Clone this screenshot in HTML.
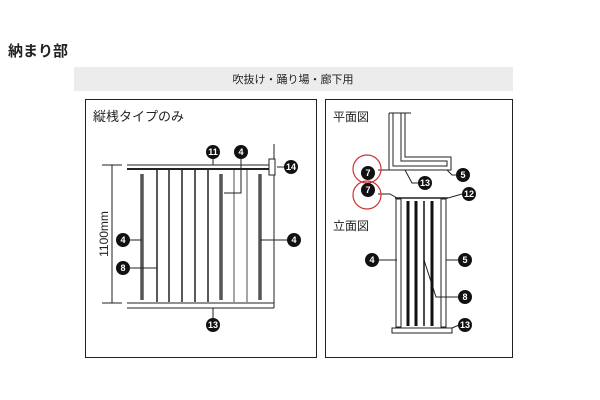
<!DOCTYPE html>
<html><head><meta charset="utf-8"><style>
body{margin:0;background:#fff;width:600px;height:400px;overflow:hidden}
svg{display:block}
text{font-family:"Liberation Sans","Noto Sans CJK JP",sans-serif}
.n{fill:#fff;font-size:9px;font-weight:bold;text-anchor:middle}
</style></head><body>
<svg width="600" height="400" viewBox="0 0 600 400">
<text x="8" y="56" font-size="15" font-weight="bold" fill="#222">納まり部</text>
<rect x="74" y="67" width="439" height="24" fill="#ececec"/>
<text x="293" y="83" font-size="11" text-anchor="middle" fill="#222">吹抜け・踊り場・廊下用</text>
<rect x="85.5" y="99.5" width="231" height="258" fill="none" stroke="#222" stroke-width="1"/>
<rect x="325.5" y="99.5" width="187" height="258" fill="none" stroke="#222" stroke-width="1"/>
<text x="93" y="121" font-size="13" fill="#222">縦桟タイプのみ</text>
<g stroke="#222" fill="none">
<line x1="127" y1="165" x2="272" y2="165" stroke-width="1"/>
<line x1="127" y1="169" x2="270" y2="169" stroke-width="2"/>
<line x1="274" y1="144" x2="274" y2="308"/>
<rect x="269" y="159" width="6" height="16" fill="#fff"/>
<line x1="112" y1="165" x2="112" y2="303"/>
<line x1="102" y1="165" x2="122" y2="165"/>
<line x1="102" y1="303" x2="122" y2="303"/>
<line x1="127" y1="303" x2="274" y2="303"/>
<line x1="127" y1="308" x2="274" y2="308"/>
<g stroke-width="1.5"><line x1="157" y1="170" x2="157" y2="302"/><line x1="169" y1="170" x2="169" y2="302"/><line x1="182" y1="170" x2="182" y2="302"/><line x1="195" y1="170" x2="195" y2="302"/><line x1="208" y1="170" x2="208" y2="302"/></g>
<g stroke="#888" stroke-width="1.5"><line x1="234" y1="170" x2="234" y2="302"/><line x1="247" y1="170" x2="247" y2="302"/></g>
<g stroke-width="3.5" stroke="#555"><line x1="142" y1="174" x2="142" y2="300"/><line x1="221" y1="174" x2="221" y2="300"/><line x1="260" y1="174" x2="260" y2="300"/></g>
<line x1="213" y1="158" x2="213" y2="165"/>
<polyline points="241,158 241,193 224,193"/>
<line x1="129" y1="240" x2="142" y2="240"/>
<line x1="129" y1="268" x2="157" y2="268"/>
<line x1="260" y1="240" x2="288" y2="240"/>
<line x1="213" y1="308" x2="213" y2="318"/>
<line x1="277" y1="167" x2="285" y2="167"/>
</g>
<text transform="translate(108,234) rotate(-90)" font-size="12" text-anchor="middle" fill="#222">1100mm</text>
<g fill="#111">
<circle cx="213" cy="152" r="7"/><circle cx="241" cy="152" r="7"/><circle cx="291" cy="167" r="7"/>
<circle cx="123" cy="240" r="7"/><circle cx="123" cy="268" r="7"/><circle cx="294" cy="240" r="7"/><circle cx="213" cy="325" r="7"/>
</g>
<text class="n" x="213" y="155">11</text><text class="n" x="241" y="155">4</text><text class="n" x="291" y="170">14</text>
<text class="n" x="123" y="243">4</text><text class="n" x="123" y="271">8</text><text class="n" x="294" y="243">4</text><text class="n" x="213" y="328">13</text>
<text x="333" y="121" font-size="12" fill="#222">平面図</text>
<text x="333" y="230" font-size="12" fill="#222">立面図</text>
<g stroke="#222" fill="none">
<line x1="389" y1="113" x2="411" y2="113"/>
<path d="M389 113 V170 H451 V157 H405 V113"/>
<path d="M393 113 V166 H447 V161 H401 V113"/>
<line x1="378" y1="170" x2="389" y2="170"/>
<polyline points="405,170 412,183 419,183"/>
<polyline points="447,170 452,175 457,175"/>
<polyline points="378,194 390,194 397,198"/>
<line x1="448" y1="198" x2="462" y2="194"/>
<line x1="395" y1="198" x2="448" y2="198" stroke-width="1.5"/>
<rect x="396" y="199" width="5" height="128"/>
<rect x="441" y="199" width="5" height="128"/>
<rect x="392" y="328" width="60" height="5"/>
<line x1="378" y1="260" x2="397" y2="260"/>
<line x1="446" y1="260" x2="459" y2="260"/>
<polyline points="424,260 436,297 459,297"/>
<line x1="452" y1="328" x2="459" y2="325"/>
</g>
<g stroke="#111" stroke-width="3"><line x1="408" y1="201" x2="408" y2="326"/><line x1="416" y1="201" x2="416" y2="326"/><line x1="432" y1="201" x2="432" y2="326"/></g>
<line x1="424" y1="201" x2="424" y2="326" stroke="#111" stroke-width="1.5"/>
<g fill="none" stroke="#c33" stroke-width="1.2"><circle cx="367" cy="169" r="14"/><circle cx="367" cy="195" r="14"/></g>
<g fill="#111">
<circle cx="368" cy="173" r="7"/><circle cx="368" cy="190" r="7"/><circle cx="425" cy="183" r="7"/><circle cx="463" cy="175" r="7"/><circle cx="469" cy="194" r="7"/>
<circle cx="372" cy="260" r="7"/><circle cx="465" cy="260" r="7"/><circle cx="465" cy="297" r="7"/><circle cx="465" cy="325" r="7"/>
</g>
<text class="n" x="368" y="176">7</text><text class="n" x="368" y="193">7</text><text class="n" x="425" y="186">13</text><text class="n" x="463" y="178">5</text><text class="n" x="469" y="197">12</text>
<text class="n" x="372" y="263">4</text><text class="n" x="465" y="263">5</text><text class="n" x="465" y="300">8</text><text class="n" x="465" y="328">13</text>
</svg>
</body></html>
